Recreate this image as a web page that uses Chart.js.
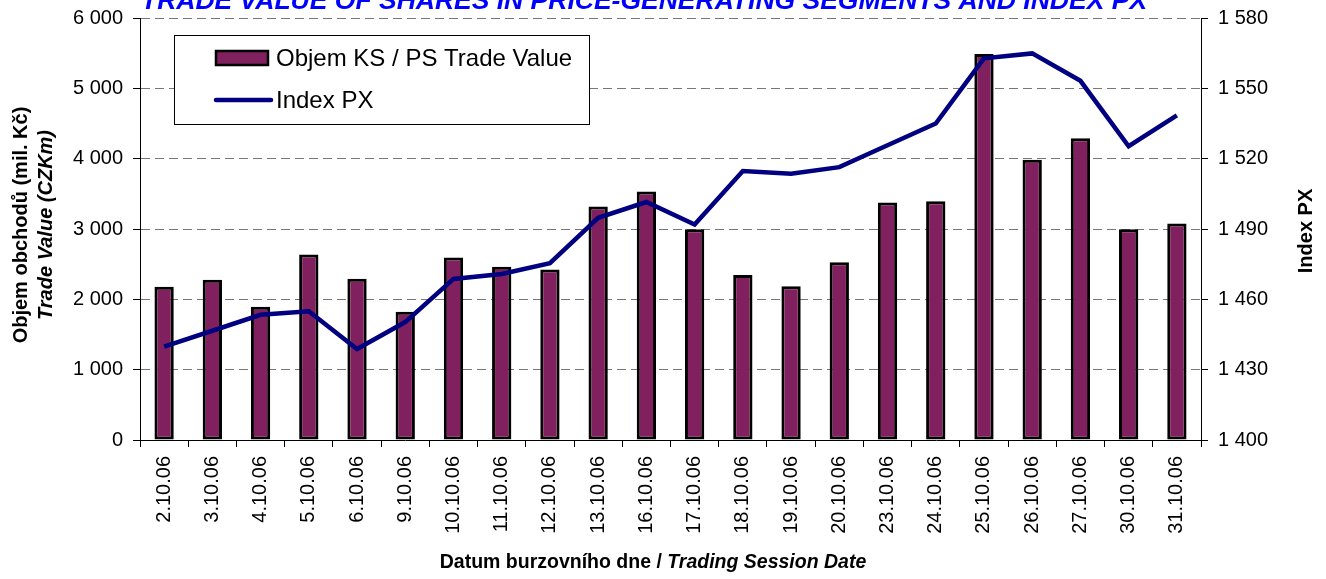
<!DOCTYPE html>
<html>
<head>
<meta charset="utf-8">
<script src="https://cdn.jsdelivr.net/npm/chart.js@4.4.1/dist/chart.umd.min.js"></script>
<style>
  html, body { margin: 0; padding: 0; background: #fff; }
  #wrap { width: 1326px; height: 579px; position: relative; }
</style>
</head>
<body>
<div id="wrap"><canvas id="px-chart"></canvas></div>
<script>
const sessionDates = [
    '2.10.06','3.10.06','4.10.06','5.10.06','6.10.06',
    '9.10.06','10.10.06','11.10.06','12.10.06','13.10.06',
    '16.10.06','17.10.06','18.10.06','19.10.06','20.10.06',
    '23.10.06','24.10.06','25.10.06','26.10.06','27.10.06',
    '30.10.06','31.10.06'
]
const tradeValue = [
    2180, 2280, 1895, 2636, 2294,
    1824, 2594, 2465, 2423, 3320,
    3534, 2995, 2347, 2185, 2527,
    3378, 3396, 5487, 3986, 4290,
    2995, 3078
]
const indexPX = [
    1439.8, 1446.6, 1453.4, 1454.9, 1438.8,
    1450.3, 1468.7, 1470.8, 1475.4, 1494.8,
    1501.5, 1491.9, 1514.7, 1513.6, 1516.4,
    1525.7, 1535.0, 1562.8, 1564.9, 1553.2,
    1525.3, 1538.5
]
const chartTitle = 'TRADE VALUE OF SHARES IN PRICE-GENERATING SEGMENTS AND INDEX PX'
const barLabel = 'Objem KS / PS Trade Value'
const lineLabel = 'Index PX'

const FONT = '"Liberation Sans", Arial, sans-serif'
const PLUM = '#80205f'
const NAVY = '#000080'

const spaced = v => String(v).replace(/\B(?=(\d{3})+(?!\d))/g, ' ')

// titles + legend drawn on the canvas (mixed bold / italic text)
const extraText = {
    id: 'extraText',
    afterDatasetsDraw(chart) {
        const ctx = chart.ctx
        ctx.save()
        ctx.fillStyle = '#0000ff'
        ctx.font = 'italic bold 26.5px ' + FONT
        ctx.textAlign = 'center'
        ctx.textBaseline = 'alphabetic'
        ctx.fillText(chartTitle, 644, 9)

        ctx.fillStyle = '#000'
        // left axis title
        ctx.save()
        ctx.translate(27, 225)
        ctx.rotate(-Math.PI / 2)
        ctx.font = 'bold 20px ' + FONT
        ctx.fillText('Objem obchodů (mil. Kč)', 0, 0)
        ctx.restore()
        ctx.save()
        ctx.translate(52, 225)
        ctx.rotate(-Math.PI / 2)
        ctx.font = 'italic bold 20px ' + FONT
        ctx.fillText('Trade Value (CZKm)', 0, 0)
        ctx.restore()
        // right axis title
        ctx.save()
        ctx.translate(1312, 231)
        ctx.rotate(-Math.PI / 2)
        ctx.font = 'bold 20px ' + FONT
        ctx.fillText('Index PX', 0, 0)
        ctx.restore()

        // x axis title
        const partA = 'Datum burzovního dne / '
        const partB = 'Trading Session Date'
        ctx.font = 'bold 19.5px ' + FONT
        const wA = ctx.measureText(partA).width
        ctx.font = 'italic bold 19.5px ' + FONT
        const wB = ctx.measureText(partB).width
        let x0 = 653 - (wA + wB) / 2
        ctx.textAlign = 'left'
        ctx.font = 'bold 19.5px ' + FONT
        ctx.fillText(partA, x0, 568)
        ctx.font = 'italic bold 19.5px ' + FONT
        ctx.fillText(partB, x0 + wA, 568)

        // legend box
        ctx.fillStyle = '#fff'
        ctx.fillRect(175, 36, 415, 89)
        ctx.strokeStyle = '#000'
        ctx.lineWidth = 1
        ctx.strokeRect(174.5, 35.5, 415, 89)
        ctx.fillStyle = PLUM
        ctx.fillRect(216, 51, 52, 14)
        ctx.lineWidth = 2.5
        ctx.strokeRect(216, 51, 52, 14)
        ctx.beginPath()
        ctx.moveTo(216, 100)
        ctx.lineTo(271, 100)
        ctx.strokeStyle = NAVY
        ctx.lineWidth = 4.5
        ctx.lineCap = 'round'
        ctx.stroke()
        ctx.fillStyle = '#000'
        ctx.font = '24px ' + FONT
        ctx.textBaseline = 'middle'
        ctx.fillText(barLabel, 276, 59)
        ctx.fillText(lineLabel, 276, 101)
        ctx.restore()
    }
}

const data = {
    labels: sessionDates,
    datasets: [{
        type: 'line',
        label: lineLabel,
        data: indexPX,
        yAxisID: 'y1',
        borderColor: NAVY,
        borderWidth: 4.5,
        pointRadius: 0,
        tension: 0,
        order: 1
    }, {
        type: 'bar',
        label: barLabel,
        data: tradeValue,
        yAxisID: 'y',
        backgroundColor: PLUM,
        borderColor: '#000',
        borderWidth: 3,
        borderSkipped: false,
        barPercentage: 0.4,
        categoryPercentage: 1,
        order: 2
    }]
}

const tickFont = { family: FONT, size: 20 }

// fixed axis sizes so the plot area sits where the reference has it
const fitY = s => { s.width = 80; s.paddingTop = 0; s.paddingBottom = 0 }

const config = {
    data,
    options: {
        responsive: true,
        maintainAspectRatio: false,
        animation: false,
        layout: {
            padding: { left: 60, right: 45, top: 18, bottom: 39 }
        },
        plugins: {
            legend: { display: false },
            title: { display: false },
            tooltip: { enabled: false }
        },
        scales: {
            x: {
                grid: {
                    offset: true,
                    drawOnChartArea: false,
                    tickLength: 7,
                    tickColor: '#000'
                },
                border: { color: '#000', width: 1 },
                ticks: {
                    font: tickFont,
                    color: '#000',
                    minRotation: 90,
                    maxRotation: 90,
                    autoSkip: false,
                    padding: 9
                },
                afterFit: s => { s.height = 100; s.paddingLeft = 0; s.paddingRight = 0 }
            },
            y: {
                position: 'left',
                min: 0,
                max: 6000,
                grid: {
                    color: '#777',
                    tickColor: '#000',
                    tickLength: 7
                },
                border: { color: '#000', width: 1, dash: [9, 5] },
                ticks: {
                    stepSize: 1000,
                    font: tickFont,
                    color: '#000',
                    padding: 10,
                    callback: v => spaced(v)
                },
                afterFit: fitY
            },
            y1: {
                position: 'right',
                min: 1400,
                max: 1580,
                grid: {
                    drawOnChartArea: false,
                    tickColor: '#000',
                    tickLength: 7
                },
                border: { color: '#000', width: 1 },
                ticks: {
                    stepSize: 30,
                    font: tickFont,
                    color: '#000',
                    padding: 10,
                    callback: v => spaced(v)
                },
                afterFit: fitY
            }
        }
    },
    plugins: [extraText]
}

const pxChart = new Chart(document.getElementById('px-chart'), config)
</script>
</body>
</html>
